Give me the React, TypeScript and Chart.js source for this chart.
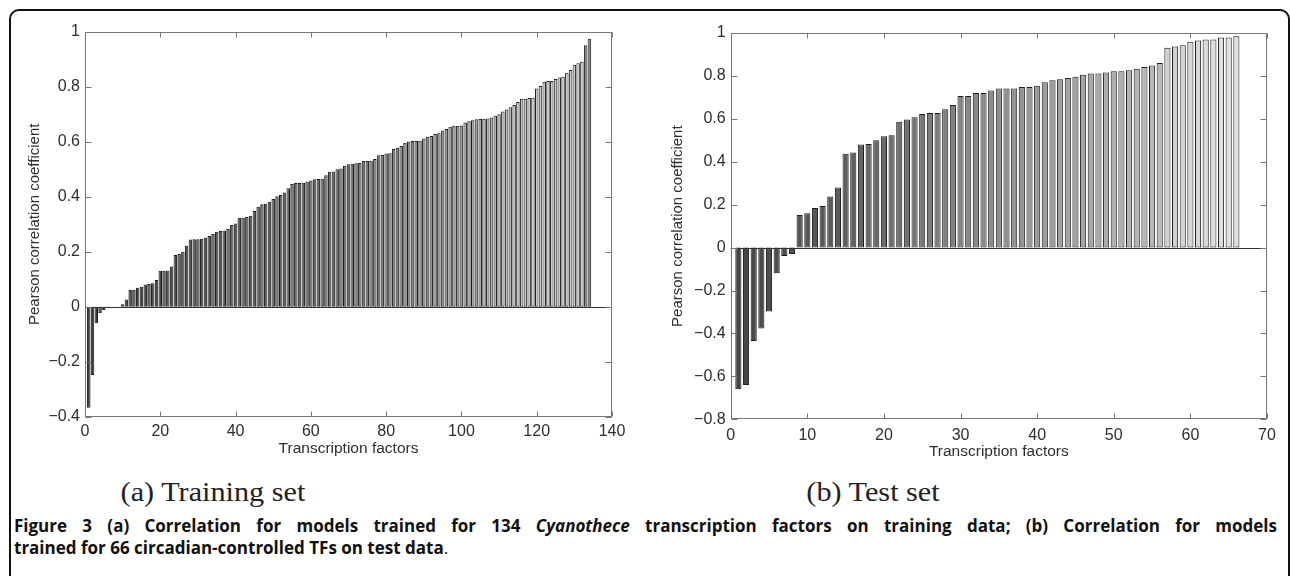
import React, { useEffect, useRef } from "react";
import { Chart, registerables } from "chart.js";

Chart.register(...registerables);

// ---------- data ----------
const TRAIN_VALUES = [
  -0.368, -0.249, -0.06, -0.024, -0.012, -0.006, -0.003, -0.001, 0.001, 0.009,
  0.026, 0.061, 0.062, 0.069, 0.073, 0.081, 0.083, 0.085, 0.097, 0.131,
  0.131, 0.132, 0.146, 0.188, 0.192, 0.2, 0.222, 0.245, 0.246, 0.246,
  0.247, 0.251, 0.257, 0.265, 0.273, 0.276, 0.277, 0.283, 0.297, 0.303,
  0.324, 0.324, 0.327, 0.331, 0.348, 0.364, 0.373, 0.375, 0.382, 0.392,
  0.402, 0.407, 0.416, 0.431, 0.447, 0.45, 0.45, 0.451, 0.455, 0.459,
  0.464, 0.465, 0.466, 0.479, 0.491, 0.492, 0.5, 0.503, 0.513, 0.519,
  0.52, 0.522, 0.523, 0.53, 0.53, 0.531, 0.538, 0.551, 0.552, 0.558,
  0.559, 0.574, 0.579, 0.585, 0.597, 0.601, 0.603, 0.603, 0.604, 0.612,
  0.619, 0.621, 0.629, 0.631, 0.641, 0.647, 0.655, 0.659, 0.659, 0.66,
  0.671, 0.675, 0.679, 0.682, 0.683, 0.684, 0.685, 0.689, 0.695, 0.701,
  0.711, 0.718, 0.726, 0.734, 0.745, 0.757, 0.757, 0.76, 0.761, 0.794,
  0.803, 0.819, 0.822, 0.822, 0.829, 0.834, 0.837, 0.852, 0.862, 0.881,
  0.886, 0.892, 0.952, 0.975,
];

const TEST_VALUES = [
  -0.66, -0.64, -0.435, -0.377, -0.298, -0.12, -0.039, -0.03,
  0.152, 0.16, 0.185, 0.194, 0.238, 0.28, 0.437, 0.443, 0.48, 0.483,
  0.5, 0.519, 0.524, 0.586, 0.597, 0.608, 0.622, 0.627, 0.627, 0.645,
  0.665, 0.706, 0.706, 0.72, 0.72, 0.732, 0.741, 0.741, 0.741, 0.748,
  0.748, 0.754, 0.771, 0.78, 0.785, 0.79, 0.796, 0.805, 0.811, 0.811,
  0.816, 0.822, 0.822, 0.827, 0.833, 0.842, 0.848, 0.86, 0.931, 0.937,
  0.943, 0.959, 0.965, 0.97, 0.97, 0.979, 0.979, 0.985,
];

const TRAIN_X_TICKS = [0, 20, 40, 60, 80, 100, 120, 140];
const TRAIN_Y_TICKS = [-0.4, -0.2, 0, 0.2, 0.4, 0.6, 0.8, 1];
const TEST_X_TICKS = [0, 10, 20, 30, 40, 50, 60, 70];
const TEST_Y_TICKS = [-0.8, -0.6, -0.4, -0.2, 0, 0.2, 0.4, 0.6, 0.8, 1];

const X_TITLE = "Transcription factors";
const Y_TITLE = "Pearson correlation coefficient";
const SUB_A = "(a) Training set";
const SUB_B = "(b) Test set";

// ---------- styles ----------
const TEXT_COLOR = "#2e2e2e";
const AXIS_FONT = "'Liberation Sans', Arial, sans-serif";

function grayRamp(n: number, stops: [number, number][]): string[] {
  const out: string[] = [];
  for (let i = 1; i <= n; i++) {
    let g = stops[stops.length - 1][1];
    for (let k = 0; k < stops.length - 1; k++) {
      const [a, ga] = stops[k];
      const [b, gb] = stops[k + 1];
      if (i >= a && i <= b) {
        g = b === a ? gb : ga + ((gb - ga) * (i - a)) / (b - a);
        break;
      }
    }
    const v = Math.round(g);
    out.push(`rgb(${v},${v},${v})`);
  }
  return out;
}

const boxPlugin = {
  id: "matlabBox",
  afterDatasetsDraw(chart: any) {
    const { ctx, chartArea: a, scales } = chart;
    const xs = scales.x;
    const ys = scales.y;
    ctx.save();
    const y0 = Math.round(ys.getPixelForValue(0)) + 0.5;
    ctx.strokeStyle = "#333";
    ctx.lineWidth = 1;
    ctx.beginPath();
    ctx.moveTo(a.left, y0);
    ctx.lineTo(a.right, y0);
    ctx.stroke();
    ctx.strokeStyle = "#777";
    ctx.lineWidth = 1;
    const L = Math.round(a.left) + 0.5;
    const R = Math.round(a.right) - 0.5;
    const T = Math.round(a.top) + 0.5;
    const B = Math.round(a.bottom) - 0.5;
    ctx.strokeRect(L, T, R - L, B - T);
    ctx.beginPath();
    xs.ticks.forEach((t: any) => {
      const x = Math.round(xs.getPixelForValue(t.value)) + 0.5;
      ctx.moveTo(x, B);
      ctx.lineTo(x, B - 5);
      ctx.moveTo(x, T);
      ctx.lineTo(x, T + 5);
    });
    ys.ticks.forEach((t: any) => {
      const y = Math.round(ys.getPixelForValue(t.value)) + 0.5;
      ctx.moveTo(L, y);
      ctx.lineTo(L + 6, y);
      ctx.moveTo(R, y);
      ctx.lineTo(R - 6, y);
    });
    ctx.stroke();
    ctx.restore();
  },
};

function fmtY(v: number): string {
  if (v === 0) return "0";
  const s = String(Math.abs(Math.round(v * 10) / 10));
  return v < 0 ? "\u2212" + s : s;
}

type Cfg = {
  values: number[];
  colors: string[];
  borderWidth: number;
  barPct: number;
  xMax: number;
  xTicks: number[];
  yTicks: number[];
  pad: { left: number; top: number; right: number; bottom: number };
  yAxisWidth: number;
  xAxisHeight: number;
  yTitlePad: number;
  xTitlePad: number;
  xTickPad: number;
};

function makeConfig(c: Cfg): any {
  const data = c.values.map((v, i) => ({ x: i + 1, y: v }));
  return {
    type: "bar",
    data: {
      datasets: [
        {
          data,
          backgroundColor: c.colors,
          borderColor: "#1e1e1e",
          borderWidth: c.borderWidth,
          borderSkipped: false,
          barPercentage: c.barPct,
          categoryPercentage: 1,
        },
      ],
    },
    options: {
      animation: false,
      responsive: false,
      devicePixelRatio: 1,
      layout: { padding: c.pad },
      plugins: { legend: { display: false }, tooltip: { enabled: false } },
      scales: {
        x: {
          type: "linear",
          min: 0,
          max: c.xMax,
          offset: false,
          grid: { display: false, drawTicks: false },
          border: { display: false },
          afterBuildTicks: (s: any) => {
            s.ticks = c.xTicks.map((v) => ({ value: v }));
          },
          afterFit: (s: any) => {
            s.height = c.xAxisHeight;
          },
          ticks: {
            padding: c.xTickPad,
            color: TEXT_COLOR,
            font: { family: AXIS_FONT, size: 16 },
            maxRotation: 0,
            autoSkip: false,
            callback: (v: any) => String(v),
          },
          title: {
            display: true,
            text: X_TITLE,
            color: TEXT_COLOR,
            font: { family: AXIS_FONT, size: 15.5 },
            padding: { top: 0, bottom: c.xTitlePad },
          },
        },
        y: {
          type: "linear",
          min: c.yTicks[0],
          max: c.yTicks[c.yTicks.length - 1],
          grid: { display: false, drawTicks: false },
          border: { display: false },
          afterBuildTicks: (s: any) => {
            s.ticks = c.yTicks.map((v) => ({ value: v }));
          },
          afterFit: (s: any) => {
            s.width = c.yAxisWidth;
          },
          ticks: {
            padding: 5,
            color: TEXT_COLOR,
            font: { family: AXIS_FONT, size: 16 },
            autoSkip: false,
            callback: (v: any) => fmtY(Number(v)),
          },
          title: {
            display: true,
            text: Y_TITLE,
            color: TEXT_COLOR,
            font: { family: AXIS_FONT, size: 15 },
            padding: { top: c.yTitlePad, bottom: 0 },
          },
        },
      },
    },
    plugins: [boxPlugin],
  };
}

export default function App() {
  const leftRef = useRef<HTMLCanvasElement>(null);
  const rightRef = useRef<HTMLCanvasElement>(null);

  useEffect(() => {
    const left = new Chart(
      leftRef.current as HTMLCanvasElement,
      makeConfig({
        values: TRAIN_VALUES,
        colors: grayRamp(TRAIN_VALUES.length, [
          [1, 58],
          [35, 84],
          [70, 110],
          [100, 158],
          [118, 200],
          [132, 204],
          [133, 140],
          [134, 140],
        ]),
        borderWidth: 1,
        barPct: 0.92,
        xMax: 140,
        xTicks: TRAIN_X_TICKS,
        yTicks: TRAIN_Y_TICKS,
        pad: { left: 0, top: 32, right: 28, bottom: 0 },
        yAxisWidth: 85,
        xAxisHeight: 53.4,
        yTitlePad: 25.7,
        xTitlePad: 12.4,
        xTickPad: 5,
      })
    );
    const right = new Chart(
      rightRef.current as HTMLCanvasElement,
      makeConfig({
        values: TEST_VALUES,
        colors: grayRamp(TEST_VALUES.length, [
          [1, 70],
          [14, 92],
          [31, 134],
          [56, 186],
          [57, 208],
          [66, 226],
        ]),
        borderWidth: 1,
        barPct: 0.8,
        xMax: 70,
        xTicks: TEST_X_TICKS,
        yTicks: TEST_Y_TICKS,
        pad: { left: 0, top: 33, right: 23, bottom: 0 },
        yAxisWidth: 90.7,
        xAxisHeight: 50.7,
        yTitlePad: 28.7,
        xTitlePad: 8.7,
        xTickPad: 7,
      })
    );
    return () => {
      left.destroy();
      right.destroy();
    };
  }, []);

  const serif = "'Liberation Serif', 'DejaVu Serif', serif";
  const capFont = "'Open Sans', 'Noto Sans', sans-serif";

  const subStyle: React.CSSProperties = {
    position: "absolute",
    width: 400,
    top: 476,
    textAlign: "center",
    fontFamily: serif,
    fontSize: 27,
    lineHeight: "32px",
    color: "#222",
    transform: "scaleX(1.12)",
    transformOrigin: "center",
  };

  return (
    <div
      style={{
        position: "absolute",
        left: 0,
        top: 0,
        width: 1290,
        height: 576,
        overflow: "hidden",
        background: "#fff",
      }}
    >
      <div
        style={{
          position: "absolute",
          left: 9,
          top: 9,
          width: 1281,
          height: 700,
          border: "2px solid #111",
          borderRadius: 10,
          boxSizing: "border-box",
        }}
      />
      <canvas
        ref={leftRef}
        width={640}
        height={470}
        style={{ position: "absolute", left: 0, top: 0, width: 640, height: 470 }}
      />
      <canvas
        ref={rightRef}
        width={650}
        height={470}
        style={{ position: "absolute", left: 640, top: 0, width: 650, height: 470 }}
      />
      <div style={{ ...subStyle, left: 13 }}>{SUB_A}</div>
      <div style={{ ...subStyle, left: 673 }}>{SUB_B}</div>
      <div
        style={{
          position: "absolute",
          left: 14,
          width: 1263,
          top: 515,
          fontFamily: capFont,
          fontSize: 17,
          fontWeight: 700,
          lineHeight: "22px",
          color: "#111",
          textAlign: "justify",
          textAlignLast: "justify" as any,
        }}
      >
        Figure 3 (a) Correlation for models trained for 134 <i>Cyanothece</i> transcription
        factors on training data; (b) Correlation for models
      </div>
      <div
        style={{
          position: "absolute",
          left: 14,
          width: 1263,
          top: 537,
          fontFamily: capFont,
          fontSize: 17,
          lineHeight: "22px",
          color: "#111",
        }}
      >
        <b>trained for 66 circadian-controlled TFs on test data</b>.
      </div>
    </div>
  );
}
